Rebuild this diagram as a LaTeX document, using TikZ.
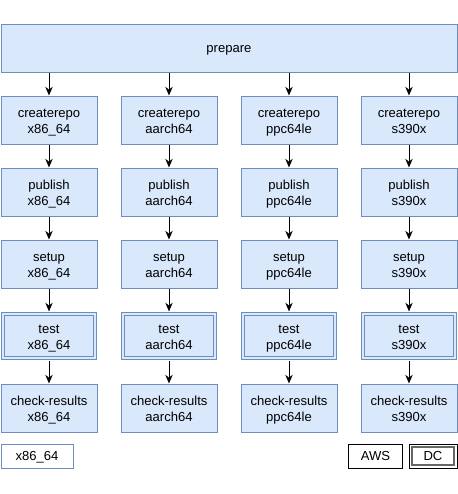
\documentclass[tikz,border=0pt]{standalone}
\usepackage{fontspec}
\setmainfont{Liberation Sans}
\usetikzlibrary{arrows.meta}
\definecolor{jobfill}{HTML}{DAE8FC}
\definecolor{jobline}{HTML}{6C8EBF}
\definecolor{dcline}{HTML}{666666}

\begin{document}
\begin{tikzpicture}[
    x=0.75pt, y=-0.75pt,
    font=\fontsize{9.8}{12}\selectfont,
    % Common job nodes
    job/.style={
        draw=jobline, fill=jobfill, line width=0.75pt,
        minimum width=72pt, minimum height=36pt,
        align=center, inner sep=1pt,
        text height=20pt, text depth=0pt
    },
    % Jobs running in the DC
    jobdc/.style={
        job, double=jobfill, double distance=1.5pt,
        minimum width=69.5pt, minimum height=33.5pt
    },
    % Single-line nodes
    oneline/.style={text height=7.7pt, text depth=0.3pt},
    % Legend nodes
    legend/.style={
        draw=black, fill=white, line width=0.75pt, oneline,
        minimum height=18pt, align=center, inner sep=1pt
    },
    linha/.style={draw, line width=0.75pt, -{Stealth[length=6.5pt, width=5.5pt]}}
]
\useasboundingbox (0,0) rectangle (458,494);

% ---- PREPARE ----
\node[job, oneline, minimum width=342pt] (prep) at (229, 48) {prepare};

% ---- CREATEREPO ----
\node[job] (cr1) at ( 49, 120) {createrepo\\x86\_64};
\node[job] (cr2) at (169, 120) {createrepo\\aarch64};
\node[job] (cr3) at (289, 120) {createrepo\\ppc64le};
\node[job] (cr4) at (409, 120) {createrepo\\s390x};

\draw[linha] (cr1.north |- prep.south) -- (cr1.north);
\draw[linha] (cr2.north |- prep.south) -- (cr2.north);
\draw[linha] (cr3.north |- prep.south) -- (cr3.north);
\draw[linha] (cr4.north |- prep.south) -- (cr4.north);

% ---- PUBLISH ----
\node[job] (pb1) at ( 49, 192) {publish\\x86\_64};
\node[job] (pb2) at (169, 192) {publish\\aarch64};
\node[job] (pb3) at (289, 192) {publish\\ppc64le};
\node[job] (pb4) at (409, 192) {publish\\s390x};

\draw[linha] (cr1.south) -- (pb1.north);
\draw[linha] (cr2.south) -- (pb2.north);
\draw[linha] (cr3.south) -- (pb3.north);
\draw[linha] (cr4.south) -- (pb4.north);

% ---- SETUP ----
\node[job] (st1) at ( 49, 264) {setup\\x86\_64};
\node[job] (st2) at (169, 264) {setup\\aarch64};
\node[job] (st3) at (289, 264) {setup\\ppc64le};
\node[job] (st4) at (409, 264) {setup\\s390x};

\draw[linha] (pb1.south) -- (st1.north);
\draw[linha] (pb2.south) -- (st2.north);
\draw[linha] (pb3.south) -- (st3.north);
\draw[linha] (pb4.south) -- (st4.north);

% ---- TEST (DC) ----
\node[jobdc] (ts1) at ( 49, 336) {test\\x86\_64};
\node[jobdc] (ts2) at (169, 336) {test\\aarch64};
\node[jobdc] (ts3) at (289, 336) {test\\ppc64le};
\node[jobdc] (ts4) at (409, 336) {test\\s390x};

\draw[linha] (st1.south) -- ([yshift=1.3pt]ts1.north);
\draw[linha] (st2.south) -- ([yshift=1.3pt]ts2.north);
\draw[linha] (st3.south) -- ([yshift=1.3pt]ts3.north);
\draw[linha] (st4.south) -- ([yshift=1.3pt]ts4.north);

% ---- CHECK-RESULTS ----
\node[job] (ck1) at ( 49, 408) {check-results\\x86\_64};
\node[job] (ck2) at (169, 408) {check-results\\aarch64};
\node[job] (ck3) at (289, 408) {check-results\\ppc64le};
\node[job] (ck4) at (409, 408) {check-results\\s390x};

\draw[linha] ([yshift=-1.3pt]ts1.south) -- (ck1.north);
\draw[linha] ([yshift=-1.3pt]ts2.south) -- (ck2.north);
\draw[linha] ([yshift=-1.3pt]ts3.south) -- (ck3.north);
\draw[linha] ([yshift=-1.3pt]ts4.south) -- (ck4.north);

% ---- LEGEND ----
\node[legend, draw=jobline, minimum width=54pt] (lg_arch) at ( 37, 456) {x86\_64};
\node[legend, minimum width=41pt]               (lg_aws)  at (375.5, 456) {AWS};
\node[legend, minimum width=36pt]               (lg_dc)   at (433, 456) {DC};
\draw[dcline, line width=1.5pt]
    ([xshift=2.6pt, yshift=2.6pt]lg_dc.south west) rectangle
    ([xshift=-2.6pt, yshift=-2.6pt]lg_dc.north east);

\end{tikzpicture}
\end{document}
